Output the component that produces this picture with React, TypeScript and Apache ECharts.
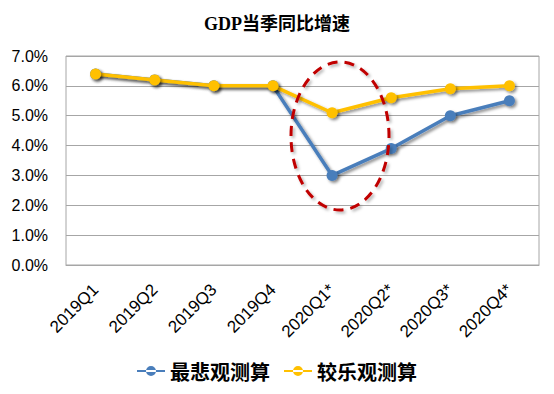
import React, { useEffect, useRef } from "react";
import * as echarts from "echarts";

const categories = ["2019Q1", "2019Q2", "2019Q3", "2019Q4", "2020Q1*", "2020Q2*", "2020Q3*", "2020Q4*"];
const pessimistic = [6.4, 6.2, 6.0, 6.0, 3.0, 3.9, 5.0, 5.5];
const optimistic = [6.4, 6.2, 6.0, 6.0, 5.1, 5.6, 5.9, 6.0];
const seriesNames = ["最悲观测算", "较乐观测算"];
const titleText = "GDP当季同比增速";

export default function App() {
  const ref = useRef<HTMLDivElement>(null);
  useEffect(() => {
    if (!ref.current) return;
    const chart = echarts.init(ref.current, null, { renderer: "svg" });
    const shadow = {
      shadowColor: "rgba(0,0,0,0.45)",
      shadowBlur: 3,
      shadowOffsetX: 2,
      shadowOffsetY: 2,
    };
    chart.setOption({
      animation: false,
      backgroundColor: "#ffffff",
      title: {
        text: titleText,
        left: "center",
        top: 10,
        textStyle: {
          fontFamily: "'Liberation Serif', 'Noto Sans CJK SC', serif",
          fontSize: 18,
          fontWeight: "bold",
          color: "#000000",
        },
      },
      legend: {
        bottom: 8,
        left: "center",
        itemWidth: 28,
        itemHeight: 12,
        itemGap: 14,
        icon: "path://M0,5 L28,5 L28,7 L0,7 Z M9,6 A5,5 0 1,0 19,6 A5,5 0 1,0 9,6 Z",
        textStyle: {
          fontFamily: "'Noto Sans CJK SC', sans-serif",
          fontSize: 20,
          fontWeight: "bold",
          color: "#000000",
        },
        data: seriesNames,
      },
      grid: {
        left: 66,
        right: 15,
        top: 56,
        bottom: 129,
        show: true,
        borderColor: "#a6a6a6",
        borderWidth: 1,
      },
      xAxis: {
        type: "category",
        data: categories,
        boundaryGap: true,
        axisLine: { lineStyle: { color: "#a6a6a6" } },
        axisTick: { show: false },
        axisLabel: {
          rotate: 45,
          margin: 22,
          fontFamily: "'Liberation Sans', sans-serif",
          fontSize: 17,
          color: "#000000",
          interval: 0,
        },
      },
      yAxis: {
        type: "value",
        min: 0,
        max: 7,
        interval: 1,
        axisLine: { show: false },
        axisTick: { show: false },
        splitLine: { lineStyle: { color: "#a6a6a6", width: 1 } },
        axisLabel: {
          formatter: (v: number) => v.toFixed(1) + "%",
          fontFamily: "'Liberation Sans', sans-serif",
          fontSize: 16,
          color: "#000000",
          margin: 18,
        },
      },
      series: [
        {
          name: seriesNames[0],
          type: "line",
          data: pessimistic,
          symbol: "circle",
          symbolSize: 11,
          color: "#4a7ebb",
          lineStyle: { width: 3.5, color: "#4a7ebb", ...shadow },
          itemStyle: { color: "#4a7ebb", ...shadow },
          z: 2,
        },
        {
          name: seriesNames[1],
          type: "line",
          data: optimistic,
          symbol: "circle",
          symbolSize: 11,
          color: "#ffc000",
          lineStyle: { width: 3.5, color: "#ffc000", ...shadow },
          itemStyle: { color: "#ffc000", ...shadow },
          z: 3,
        },
      ],
      graphic: [
        {
          type: "ellipse",
          shape: { cx: 340, cy: 136, rx: 49, ry: 74 },
          style: {
            fill: "none",
            stroke: "#c00000",
            lineWidth: 3,
            lineDash: [10, 7],
            shadowColor: "rgba(0,0,0,0.3)",
            shadowBlur: 3,
            shadowOffsetX: 2,
            shadowOffsetY: 2,
          },
          z: 10,
        },
      ],
    });
    return () => chart.dispose();
  }, []);
  return <div ref={ref} style={{ width: 554, height: 394, position: "absolute", left: 0, top: 0 }} />;
}
